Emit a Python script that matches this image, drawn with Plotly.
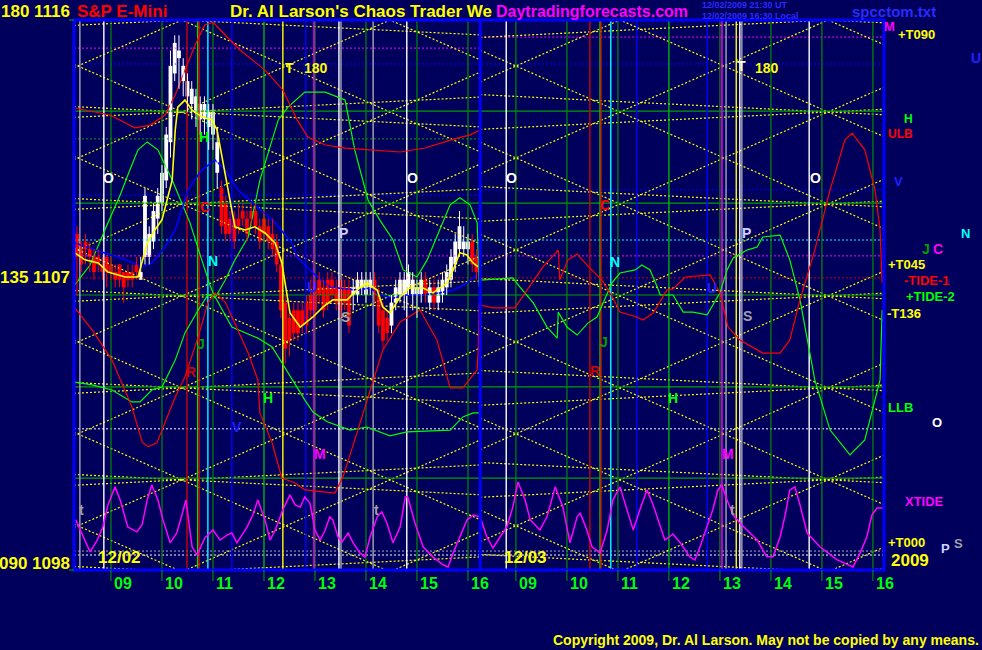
import plotly.graph_objects as go

# ------------------------------------------------------------------ data
CHART_START = 8.275      # clock hour at the left edge (day 1)
DAY1_END = 16.24         # session divider (day-1 clock hours)
DAY2_SHIFT = 7.94        # chart offset of the 2nd session (clock -> chart hours)
CHART_END = 24.157
PRICE_MIN, PRICE_MAX = 1098.0, 1116.0

HOURS = [9, 10, 11, 12, 13, 14, 15, 16]
HOUR_LABELS = ['09', '10', '11', '12', '13', '14', '15', '16']
DATE_LABELS = ['12/02', '12/03']

# 5-minute bars, day 1 (12/02), first bar 08:20
BAR_FIRST = 8 + 20 / 60
BAR_MINUTES = 5
OPEN = [1109.0, 1108.5, 1108.75, 1108.5, 1108.25, 1108.25, 1108.0, 1108.25, 1108.0, 1107.75,
        1108.0, 1107.75, 1107.75, 1107.75, 1108.0, 1107.5, 1108.25, 1108.25, 1108.75, 1109.5,
        1110.0, 1110.75, 1112.0, 1114.25, 1114.75, 1114.0, 1113.5, 1113.25, 1113.0, 1112.75,
        1112.75, 1112.5, 1112.25, 1111.0, 1110.5, 1110.0, 1109.5, 1109.5, 1109.5, 1109.75,
        1109.5, 1109.75, 1109.75, 1109.25, 1109.5, 1109.25, 1109.0, 1108.75, 1108.0, 1106.75,
        1106.25, 1106.5, 1106.5, 1106.5, 1106.75, 1107.0, 1107.25, 1107.5, 1107.25, 1107.5,
        1107.5, 1107.25, 1107.5, 1107.25, 1107.25, 1107.0, 1107.0, 1107.25, 1107.0, 1107.25,
        1107.5, 1107.0, 1106.5, 1106.25, 1106.0, 1106.75, 1107.0, 1107.0, 1107.25, 1107.0,
        1107.0, 1107.0, 1107.5, 1106.75, 1107.25, 1106.75, 1107.0, 1107.25, 1107.5, 1108.0,
        1108.5, 1108.5, 1108.5, 1108.75, 1108.25]
HIGH = [1109.25, 1108.75, 1109.0, 1108.75, 1108.5, 1108.5, 1108.25, 1108.25, 1108.25, 1108.0,
        1108.0, 1107.75, 1108.0, 1108.0, 1108.25, 1108.25, 1110.5, 1109.25, 1110.0, 1110.5,
        1111.25, 1112.5, 1115.0, 1115.5, 1115.5, 1114.75, 1114.25, 1114.0, 1113.75, 1113.5,
        1113.5, 1113.25, 1113.25, 1112.5, 1110.75, 1110.25, 1109.75, 1109.75, 1110.0, 1110.0,
        1109.75, 1110.0, 1110.0, 1109.5, 1109.75, 1109.5, 1109.5, 1109.0, 1108.25, 1107.0,
        1106.5, 1106.75, 1106.75, 1106.75, 1107.0, 1107.5, 1107.5, 1107.75, 1107.5, 1107.75,
        1107.75, 1107.5, 1107.5, 1107.5, 1107.5, 1107.5, 1107.75, 1107.75, 1107.75, 1107.75,
        1107.75, 1107.25, 1106.75, 1106.5, 1107.0, 1107.5, 1107.75, 1107.75, 1108.0, 1107.75,
        1107.5, 1107.75, 1107.75, 1107.5, 1107.5, 1107.5, 1107.75, 1108.0, 1108.5, 1109.0,
        1109.75, 1109.25, 1109.0, 1109.0, 1108.5]
LOW = [1107.0, 1107.75, 1108.0, 1107.75, 1107.5, 1107.75, 1107.5, 1107.25, 1107.5, 1107.25,
       1107.25, 1106.75, 1107.25, 1107.25, 1107.5, 1107.5, 1108.0, 1108.0, 1108.5, 1109.0,
       1109.75, 1110.5, 1111.5, 1114.0, 1113.75, 1113.5, 1113.0, 1112.75, 1112.5, 1112.25,
       1112.25, 1111.75, 1111.75, 1110.5, 1109.0, 1108.75, 1108.75, 1108.5, 1109.0, 1109.25,
       1108.75, 1109.25, 1109.0, 1108.5, 1108.75, 1108.5, 1108.25, 1107.75, 1106.25, 1104.75,
       1105.0, 1105.5, 1105.5, 1105.75, 1105.75, 1106.25, 1106.25, 1106.75, 1106.25, 1106.5,
       1106.75, 1106.5, 1106.25, 1106.5, 1105.75, 1106.5, 1106.75, 1107.0, 1106.75, 1107.0,
       1106.75, 1105.75, 1105.25, 1105.5, 1105.75, 1106.5, 1106.75, 1106.5, 1107.0, 1106.5,
       1106.25, 1106.75, 1106.75, 1106.5, 1106.5, 1106.5, 1106.75, 1107.0, 1107.25, 1107.75,
       1108.25, 1108.25, 1108.0, 1107.75, 1107.5]
CLOSE = [1108.25, 1108.0, 1108.5, 1108.25, 1107.75, 1108.0, 1107.75, 1107.75, 1107.75, 1107.5,
         1107.5, 1107.25, 1107.5, 1107.5, 1107.75, 1107.75, 1110.25, 1109.0, 1109.75, 1110.25,
         1111.0, 1112.25, 1114.5, 1115.25, 1115.0, 1114.5, 1114.0, 1113.75, 1113.5, 1113.25,
         1113.25, 1113.0, 1113.0, 1112.0, 1109.25, 1109.0, 1109.0, 1108.75, 1109.25, 1109.5,
         1109.0, 1109.5, 1109.25, 1108.75, 1109.0, 1108.75, 1108.5, 1108.0, 1106.5, 1105.25,
         1105.5, 1105.75, 1105.75, 1106.0, 1106.0, 1106.5, 1106.5, 1107.0, 1106.5, 1106.75,
         1107.0, 1106.75, 1106.5, 1106.75, 1106.0, 1107.25, 1107.5, 1107.5, 1107.5, 1107.5,
         1107.0, 1106.0, 1105.5, 1105.75, 1106.75, 1107.25, 1107.5, 1107.5, 1107.75, 1107.5,
         1107.25, 1107.5, 1107.0, 1107.25, 1106.75, 1107.25, 1107.5, 1107.75, 1108.25, 1108.75,
         1109.25, 1108.75, 1108.75, 1108.0, 1107.75]

# price moving average (yellow), day 1
MA_T = [8.29, 8.49, 8.75, 8.94, 9.28, 9.53, 9.71, 9.86, 10.00, 10.20, 10.26, 10.31, 10.45, 10.59,
        10.78, 10.98, 11.08, 11.18, 11.30, 11.43, 11.63, 11.82, 12.02, 12.22, 12.35, 12.45, 12.51,
        12.71, 12.96, 13.16, 13.35, 13.63, 13.82, 14.02, 14.22, 14.33, 14.47, 14.67, 14.86, 15.12,
        15.31, 15.59, 15.71, 15.84, 15.98, 16.10, 16.20]
MA_P = [1108.38, 1108.15, 1108.05, 1107.75, 1107.59, 1107.59, 1108.70, 1109.13, 1109.46, 1110.76,
        1112.40, 1113.15, 1113.38, 1113.05, 1112.83, 1112.73, 1112.40, 1111.52, 1110.44, 1109.23,
        1109.13, 1109.23, 1109.03, 1108.70, 1108.05, 1107.07, 1106.41, 1105.95, 1106.28, 1106.61,
        1106.84, 1106.84, 1107.16, 1107.39, 1107.16, 1106.61, 1106.41, 1106.94, 1107.23, 1107.23,
        1107.07, 1107.39, 1107.82, 1108.38, 1108.31, 1108.05, 1107.92]

# blue forecast, day 1
BLUE_T = [8.29, 8.69, 9.28, 9.61, 9.80, 10.06, 10.26, 10.51, 10.78, 11.04, 11.24, 11.49, 11.88, 12.22,
          12.55, 12.65, 12.96, 13.29, 13.82, 14.08, 14.27, 14.53, 14.80, 15.06, 15.45, 15.71, 15.98, 16.18]
BLUE_P = [1108.70, 1108.47, 1108.15, 1107.92, 1108.05, 1108.57, 1109.13, 1110.44, 1111.09, 1111.42,
          1111.09, 1110.44, 1109.88, 1109.36, 1108.70, 1108.24, 1107.72, 1107.26, 1107.16, 1107.23,
          1107.00, 1106.90, 1107.00, 1107.00, 1107.07, 1107.16, 1107.39, 1107.66]

# red upper band (ULB), day 1
RED_UP_T = [8.29, 8.69, 8.98, 9.47, 9.77, 10.06, 10.26, 10.45, 10.65, 10.84, 11.00, 11.24, 11.53,
            11.82, 12.02, 12.37, 12.65, 12.86, 13.20, 13.59, 14.08, 14.67, 15.16, 15.65, 16.04, 16.24]
RED_UP_P = [1113.12, 1112.99, 1112.89, 1112.47, 1112.56, 1112.89, 1113.55, 1114.36, 1115.18, 1115.84,
            1115.93, 1115.51, 1115.02, 1114.63, 1114.36, 1113.71, 1112.73, 1112.17, 1111.91, 1111.81,
            1111.75, 1111.68, 1111.81, 1112.07, 1112.24, 1112.40]

# red TIDE-1 forecast (day 1 / day 2 clock hours)
RED_D1_T = [8.29, 8.63, 9.02, 9.41, 9.61, 9.73, 9.90, 10.06, 10.26, 10.45, 10.71, 10.90, 11.04, 11.24,
            11.43, 11.69, 11.88, 11.92, 12.16, 12.35, 12.61, 12.80, 13.39, 13.55, 13.78, 14.02, 14.33,
            14.67, 15.06, 15.39, 15.65, 15.90, 16.18, 16.20, 16.22]
RED_D1_P = [1106.58, 1105.86, 1104.87, 1103.34, 1102.19, 1102.03, 1102.16, 1102.81, 1103.66, 1104.32,
            1105.63, 1106.74, 1107.07, 1106.77, 1106.08, 1105.10, 1104.22, 1103.14, 1102.16, 1101.01,
            1100.85, 1100.62, 1100.52, 1101.05, 1102.26, 1103.57, 1105.20, 1106.12, 1106.51, 1105.53,
            1103.96, 1103.96, 1104.55, 1105.20, 1106.74]
RED_D2_T = [8.30, 8.55, 8.98, 9.53, 9.83, 9.86, 10.02, 10.20, 10.45, 10.69, 10.90, 11.04, 11.37, 11.49,
            11.69, 11.96, 12.08, 12.32, 12.81, 13.00, 13.16, 13.39, 13.84, 14.18, 14.37, 14.57, 14.86,
            15.16, 15.45, 15.59, 15.84, 16.04, 16.14, 16.18]
RED_D2_P = [1106.67, 1106.58, 1106.58, 1107.92, 1108.47, 1107.49, 1108.15, 1108.34, 1107.88, 1107.49,
            1106.90, 1106.44, 1106.28, 1106.18, 1106.41, 1107.16, 1107.20, 1107.59, 1107.66, 1107.07,
            1105.95, 1105.53, 1105.10, 1105.10, 1105.53, 1106.84, 1108.47, 1110.44, 1112.07, 1112.30,
            1111.75, 1110.44, 1109.13, 1107.39]

# green TIDE-2 forecast
GRN_D1_T = [8.29, 8.59, 8.88, 9.18, 9.37, 9.53, 9.71, 9.92, 10.20, 10.39, 10.55, 10.78, 10.94, 11.04,
            11.24, 11.43, 11.69, 11.92, 12.08, 12.28, 12.47, 12.80, 13.20, 13.59, 13.78, 14.04, 14.27,
            14.53, 14.73, 15.00, 15.20, 15.45, 15.65, 15.84, 16.04, 16.18, 16.22]
GRN_D1_P = [1107.33, 1107.98, 1109.13, 1110.27, 1111.09, 1111.75, 1112.01, 1111.75, 1110.76, 1110.01,
            1109.36, 1108.15, 1107.33, 1106.90, 1107.49, 1108.15, 1108.90, 1110.76, 1111.65, 1112.73,
            1113.15, 1113.64, 1113.64, 1113.38, 1111.75, 1110.11, 1109.46, 1108.80, 1107.82, 1107.59,
            1108.15, 1109.13, 1109.95, 1110.18, 1109.95, 1109.36, 1107.26]
GRN_D2_T = [8.30, 8.94, 9.08, 9.34, 9.61, 9.81, 9.83, 10.00, 10.20, 10.41, 10.59, 10.88, 11.04, 11.34,
            11.47, 11.63, 11.77, 11.83, 12.08, 12.28, 12.47, 12.75, 13.00, 13.14, 13.26, 13.53, 13.73,
            13.84, 14.18, 14.37, 14.57, 14.86, 15.16, 15.55, 15.84, 16.04, 16.14, 16.18]
GRN_D2_P = [1107.49, 1107.56, 1107.26, 1106.74, 1105.95, 1105.59, 1106.44, 1105.95, 1105.69, 1106.08,
            1106.28, 1107.39, 1107.72, 1107.82, 1107.98, 1107.82, 1107.26, 1107.00, 1107.00, 1106.44,
            1106.44, 1106.35, 1107.07, 1107.82, 1108.21, 1108.47, 1108.57, 1108.90, 1108.96, 1108.15,
            1106.84, 1104.22, 1102.58, 1101.77, 1102.26, 1103.57, 1104.22, 1106.51]

# green lower band (LLB), day 1
LLB_T = [8.29, 8.63, 9.02, 9.41, 9.57, 9.80, 10.00, 10.26, 10.45, 10.71, 10.90, 11.04, 11.37, 11.88,
         12.16, 12.47, 12.80, 12.96, 13.24, 13.69, 14.02, 14.47, 14.80, 15.65, 15.90, 16.10, 16.24]
LLB_P = [1104.15, 1104.06, 1103.89, 1103.50, 1103.50, 1103.89, 1103.99, 1104.87, 1105.76, 1106.51,
         1107.00, 1106.94, 1105.95, 1105.59, 1105.30, 1104.45, 1103.57, 1103.17, 1102.85, 1102.58,
         1102.68, 1102.39, 1102.52, 1102.58, 1103.01, 1103.14, 1103.14]

# magenta XTIDE
XT_D1_T = [8.31, 8.43, 8.59, 8.73, 8.84, 8.94, 9.08, 9.18, 9.33, 9.51, 9.61, 9.71, 9.80, 9.92, 10.02,
           10.16, 10.29, 10.39, 10.47, 10.59, 10.69, 10.84, 11.00, 11.14, 11.28, 11.37, 11.47, 11.67,
           11.78, 11.88, 12.02, 12.12, 12.22, 12.37, 12.51, 12.61, 12.71, 12.80, 12.90, 13.00, 13.10,
           13.20, 13.29, 13.35, 13.45, 13.53, 13.65, 13.75, 13.88, 13.98, 14.08, 14.22, 14.31, 14.41,
           14.53, 14.67, 14.77, 14.82, 14.96, 15.12, 15.31, 15.51, 15.61, 15.71, 15.84, 15.98, 16.10, 16.24]
XT_D1_P = [1099.64, 1099.21, 1098.59, 1098.98, 1099.41, 1100.13, 1100.72, 1100.29, 1099.41, 1099.25,
           1099.48, 1100.29, 1100.78, 1100.29, 1099.64, 1098.89, 1099.21, 1099.80, 1100.29, 1098.76,
           1098.49, 1099.05, 1099.31, 1098.98, 1099.15, 1099.21, 1098.89, 1099.41, 1099.80, 1100.29,
           1099.64, 1098.98, 1099.31, 1099.97, 1100.46, 1100.13, 1100.06, 1100.39, 1100.19, 1099.31,
           1098.98, 1099.31, 1099.74, 1099.64, 1099.08, 1098.92, 1099.21, 1098.89, 1098.56, 1098.43,
           1099.08, 1099.74, 1099.90, 1099.54, 1098.89, 1099.41, 1100.39, 1100.39, 1099.54, 1098.76,
           1098.43, 1098.17, 1098.10, 1098.56, 1099.08, 1099.64, 1099.80, 1099.74]
XT_D2_T = [8.30, 8.43, 8.55, 8.69, 8.82, 8.94, 9.04, 9.18, 9.28, 9.47, 9.61, 9.77, 9.92, 10.06, 10.20,
           10.26, 10.39, 10.49, 10.65, 10.79, 10.90, 11.04, 11.18, 11.30, 11.43, 11.57, 11.69, 11.83,
           11.92, 12.08, 12.22, 12.41, 12.51, 12.61, 12.75, 12.86, 12.96, 13.04, 13.14, 13.26, 13.39,
           13.59, 13.73, 13.92, 14.04, 14.18, 14.28, 14.37, 14.47, 14.57, 14.71, 14.96, 15.30, 15.61,
           15.75, 15.88, 15.98, 16.08, 16.22]
XT_D2_P = [1099.74, 1099.08, 1098.72, 1099.08, 1099.41, 1100.06, 1100.88, 1100.29, 1099.64, 1099.31,
           1099.74, 1100.72, 1100.06, 1098.89, 1099.74, 1099.87, 1099.31, 1098.76, 1098.56, 1099.31,
           1100.29, 1100.72, 1099.97, 1099.31, 1099.97, 1100.62, 1100.13, 1099.41, 1098.98, 1099.18,
           1098.89, 1098.43, 1098.33, 1098.76, 1099.41, 1099.97, 1100.62, 1100.78, 1100.29, 1099.80,
           1099.54, 1099.21, 1098.98, 1098.43, 1098.43, 1099.08, 1099.80, 1100.62, 1100.72, 1100.13,
           1099.21, 1098.76, 1098.33, 1098.10, 1098.56, 1099.08, 1099.80, 1100.03, 1100.03]

# vertical event lines (clock hours) and their kinds
EVENT_T_D1 = [8.39, 8.86, 10.49, 10.70, 10.73, 10.90, 11.37, 12.37, 12.82, 12.98, 13.47, 13.51, 14.14, 14.80]
EVENT_K_D1 = ['gray', 'white', 'red', 'lime', 'red', 'cyan', 'blue', 'yellow', 'blue', 'magenta',
              'white', 'gray', 'gray', 'white']
EVENT_T_D2 = [8.81, 10.45, 10.65, 10.67, 10.86, 11.37, 12.75, 13.04, 13.12, 13.32, 13.39, 13.43, 14.75]
EVENT_K_D2 = ['white', 'red', 'lime', 'red', 'cyan', 'blue', 'blue', 'magenta', 'gray', 'yellow',
              'white', 'gray', 'white']

# horizontal levels
LEVEL_SOLID = [1113.02, 1110.01, 1107.00, 1103.99, 1101.01]
LEVEL_DOT_P = [1114.56, 1108.80, 1108.28, 1107.56, 1102.62, 1098.62, 1098.49]
LEVEL_DOT_K = ['blue', 'cyan', 'magenta', 'red', 'white', 'gray', 'white']
LEVEL_D1_P = [1115.08, 1110.27, 1112.11]
LEVEL_D1_K = ['magenta', 'blue', 'green']
LEVEL_D2_P = [1115.44, 1110.44]
LEVEL_D2_K = ['magenta', 'blue']

# Gann lattice (anchor clock hours per session, top price, step, slopes in pts/hour)
GANN_ANCHOR = [10.39, 15.12]
GANN_TOP = 1116.0
GANN_STEP = 3.01
GANN_STEEP = 0.7377
GANN_FLAT = 0.0834

# ------------------------------------------------------------------ styling
BG = '#00005c'
FONT = 'Liberation Sans, Arial, sans-serif'
COL = {'gray': '#a8a8b8', 'white': '#ffffff', 'red': '#d00000', 'lime': '#00e000',
       'cyan': '#00ffff', 'blue': '#0000ff', 'yellow': '#ffff00', 'magenta': '#ff00ff',
       'green': '#00a000'}
YEL, RED, GRN, BLU, CYN, MAG, WHT = '#ffff00', '#ff0000', '#00ff00', '#2020ff', '#00ffff', '#ff00ff', '#ffffff'
DOTS = '2px,2px'

fig = go.Figure()


def d2(ts):
    return [t + DAY2_SHIFT for t in ts]


def add_path(xs, ys, color, width=1.0, dash='solid'):
    fig.add_trace(go.Scatter(x=xs, y=ys, mode='lines', hoverinfo='skip',
                             line=dict(color=color, width=width, dash=dash)))


# horizontal dotted levels
for p, k in zip(LEVEL_DOT_P, LEVEL_DOT_K):
    add_path([CHART_START, CHART_END], [p, p], COL[k], 1, DOTS)
for p, k in zip(LEVEL_D1_P, LEVEL_D1_K):
    add_path([CHART_START, DAY1_END], [p, p], COL[k], 1, DOTS)
for p, k in zip(LEVEL_D2_P, LEVEL_D2_K):
    add_path([DAY1_END, CHART_END], [p, p], COL[k], 1, DOTS)

# Gann lattice
sessions = [(CHART_START, DAY1_END, GANN_ANCHOR[0]),
            (DAY1_END, CHART_END, GANN_ANCHOR[1] + DAY2_SHIFT)]
for t0, t1, ta in sessions:
    xs, ys = [], []
    for k in range(-12, 13):
        p = GANN_TOP - k * GANN_STEP
        for s in (GANN_STEEP, -GANN_STEEP):
            xs += [t0, t1, None]
            ys += [p + s * (t0 - ta), p + s * (t1 - ta), None]
    add_path(xs, ys, YEL, 1.2, DOTS)
    xs, ys = [], []
    for k in range(0, 7):
        p = GANN_TOP - k * GANN_STEP
        for s in (GANN_FLAT, -GANN_FLAT):
            xs += [t0, t1, None]
            ys += [p + s * (t0 - ta), p + s * (t1 - ta), None]
    add_path(xs, ys, YEL, 1.2, DOTS)

# solid green levels
xs, ys = [], []
for p in LEVEL_SOLID:
    xs += [CHART_START, CHART_END, None]
    ys += [p, p, None]
add_path(xs, ys, '#00a000', 1.2)

# hour lines
for h in HOURS:
    for t in (h, h + DAY2_SHIFT):
        add_path([t, t], [PRICE_MIN, PRICE_MAX], '#00d000' if h == 12 else '#008c00', 1.2)

# event lines
for ts, ks, off in ((EVENT_T_D1, EVENT_K_D1, 0.0), (EVENT_T_D2, EVENT_K_D2, DAY2_SHIFT)):
    for t, k in zip(ts, ks):
        add_path([t + off, t + off], [PRICE_MIN, PRICE_MAX], COL[k], 1.4)

# forecast curves
add_path(LLB_T, LLB_P, GRN, 1.2)
add_path(GRN_D1_T + d2(GRN_D2_T), GRN_D1_P + GRN_D2_P, GRN, 1.2)
add_path(RED_UP_T, RED_UP_P, RED, 1.2)
add_path(RED_D1_T + d2(RED_D2_T), RED_D1_P + RED_D2_P, RED, 1.2)
add_path(BLUE_T, BLUE_P, '#0000ff', 1.6)
add_path(XT_D1_T + d2(XT_D2_T), XT_D1_P + XT_D2_P, MAG, 1.5)

# price bars: wicks + bodies (white = up bar, red = down bar)
bar_t = [BAR_FIRST + i * BAR_MINUTES / 60 for i in range(len(CLOSE))]
up = [c >= o for o, c in zip(OPEN, CLOSE)]
for flag, color in ((True, '#ffffff'), (False, '#ff0000')):
    xs, ys = [], []
    for t, h, l, u in zip(bar_t, HIGH, LOW, up):
        if u == flag:
            xs += [t, t, None]
            ys += [l, h, None]
    add_path(xs, ys, color, 1)
fig.add_trace(go.Bar(
    x=bar_t, y=[max(abs(c - o), 0.06) for o, c in zip(OPEN, CLOSE)],
    base=[min(o, c) for o, c in zip(OPEN, CLOSE)],
    width=BAR_MINUTES / 60 * 0.9,
    marker=dict(color=['#ffffff' if u else '#ff0000' for u in up], line=dict(width=0)),
    hoverinfo='skip'))
add_path(MA_T, MA_P, YEL, 1.6)

# session divider
add_path([DAY1_END, DAY1_END], [PRICE_MIN, PRICE_MAX], '#0000ff', 3)

# ------------------------------------------------------------------ text
ann = []


def lab(text, x, y, color, size=13, xanchor='center'):
    ann.append(dict(text='<b>%s</b>' % text, x=(x - 74) / 810, y=(570 - y) / 550,
                     xref='paper', yref='paper', xanchor=xanchor, yanchor='middle',
                     showarrow=False, font=dict(family=FONT, size=size, color=color)))


# header / footer
lab('180 1116', 72, 12, YEL, 17, 'right')
lab('135 1107', 72, 277, YEL, 17, 'right')
lab('090 1098', 72, 563, YEL, 17, 'right')
lab('S&amp;P E-Mini', 75, 12, RED, 17, 'left')
lab("Dr. Al Larson's Chaos Trader We", 228, 12, YEL, 17, 'left')
lab('Daytradingforecasts.com', 494, 11, MAG, 16, 'left')
lab('12/02/2009 21:30 UT', 700, 5, '#2a2aff', 9, 'left')
lab('12/02/2009 16:30 Local', 700, 16, '#2a2aff', 9, 'left')
lab('spcctom.txt', 850, 11, '#2a2aff', 15, 'left')
lab('Copyright 2009, Dr. Al Larson. May not be copied by any means.', 981, 640, YEL, 14, 'right')

# date labels
lab(DATE_LABELS[0], 96, 557, YEL, 17, 'left')
lab(DATE_LABELS[1], 502, 557, YEL, 17, 'left')

# hour labels (placed on the time axis)
for h, s in zip(HOURS, HOUR_LABELS):
    for t in (h, h + DAY2_SHIFT):
        ann.append(dict(text='<b>%s</b>' % s, x=t, y=(570 - 583) / 550, xref='x', yref='paper',
                        xanchor='left', yanchor='middle', xshift=1, showarrow=False,
                        font=dict(family=FONT, size=16, color=GRN)))

# right-hand labels
for t, x, y, c, s in [('+T090', 896, 35, YEL, 13), ('M', 889, 27, MAG, 13), ('U', 976, 58, BLU, 14),
                      ('H', 908, 119, GRN, 12), ('ULB', 886, 134, RED, 12), ('V', 898, 181, BLU, 13),
                      ('N', 965, 234, CYN, 13), ('J', 926, 249, '#00a000', 14), ('C', 938, 249, MAG, 14),
                      ('+T045', 886, 264, YEL, 13), ('-TIDE-1', 902, 280, RED, 13),
                      ('+TIDE-2', 904, 296, GRN, 13), ('-T136', 885, 313, YEL, 13),
                      ('LLB', 886, 407, GRN, 13), ('O', 937, 423, WHT, 13), ('XTIDE', 903, 501, MAG, 13),
                      ('+T000', 886, 542, YEL, 13), ('2009', 889, 560, YEL, 17),
                      ('P', 945, 548, '#d0d0ff', 13), ('S', 958, 543, '#a0a0a8', 13)]:
    lab(t, x, y, c, s, 'left' if len(t) > 1 else 'center')

# in-plot event letters
for t, x, y, c in [('O', 108, 178, WHT), ('O', 412, 178, WHT), ('O', 511, 178, WHT), ('O', 815, 178, WHT),
                   ('T', 289, 68, YEL), ('180', 316, 68, YEL), ('T', 741, 66, '#ffffc0'), ('180', 767, 68, YEL),
                   ('H', 204, 137, GRN), ('C', 205, 207, RED), ('C', 605, 205, RED),
                   ('N', 213, 261, CYN), ('N', 615, 262, CYN),
                   ('P', 343, 233, '#d0d0ff'), ('P', 746, 233, '#d0d0ff'),
                   ('U', 312, 287, BLU), ('U', 712, 288, BLU),
                   ('S', 345, 317, '#a0a0a8'), ('S', 747, 316, '#a0a0a8'),
                   ('J', 201, 344, '#00a000'), ('J', 604, 342, '#00a000'),
                   ('R', 191, 372, '#d00000'), ('R', 595, 371, '#d00000'),
                   ('H', 268, 398, GRN), ('H', 673, 398, GRN), ('V', 237, 427, BLU),
                   ('M', 320, 454, MAG), ('M', 728, 454, MAG),
                   ('t', 81, 510, '#a0a0a8'), ('t', 376, 510, '#a0a0a8'), ('t', 732, 510, '#a0a0a8')]:
    lab(t, x, y, c, 14)

# axis tick marks below the frame
shapes = [dict(type='rect', xref='paper', yref='paper', x0=0, x1=1, y0=0, y1=1,
               line=dict(color='#0000ff', width=3), layer='above')]
for h in HOURS:
    for t in (h, h + DAY2_SHIFT):
        shapes.append(dict(type='line', xref='x', yref='paper', x0=t, x1=t,
                           y0=(570 - 581) / 550, y1=0, line=dict(color='#00a000', width=1)))
for yy in (20, 570):
    shapes.append(dict(type='line', xref='paper', yref='paper', x0=-5 / 810, x1=0,
                       y0=(570 - yy) / 550, y1=(570 - yy) / 550, line=dict(color='#00a000', width=1)))

fig.update_layout(
    width=982, height=650, autosize=False,
    margin=dict(l=74, r=98, t=20, b=80, pad=0),
    paper_bgcolor=BG, plot_bgcolor=BG, showlegend=False,
    xaxis=dict(range=[CHART_START, CHART_END], visible=False, fixedrange=True),
    yaxis=dict(range=[PRICE_MIN, PRICE_MAX], visible=False, fixedrange=True),
    annotations=ann, shapes=shapes, hovermode=False,
)

fig.write_html("out.html", config={'displayModeBar': False})
with open("out.html", encoding="utf-8") as f:
    html = f.read()
html = html.replace("<body>", '<body style="margin:0;padding:0;overflow:hidden;background:%s">' % BG, 1)
with open("out.html", "w", encoding="utf-8") as f:
    f.write(html)
